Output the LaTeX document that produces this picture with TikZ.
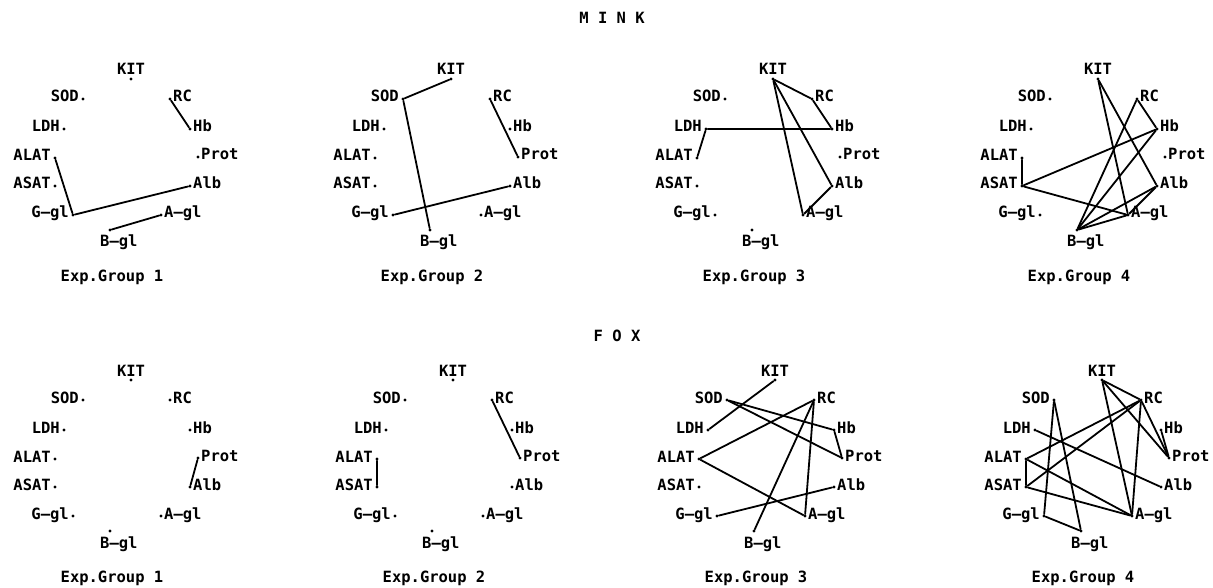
\documentclass[tikz,border=0pt]{standalone}
\usepackage{fontspec}
\usepackage{tikz}
\newfontfamily\plotfont{DejaVu Sans Mono}
\newcommand\pfont{\fontsize{15.5}{18}\selectfont\plotfont\bfseries}

\begin{document}
\begin{tikzpicture}[x=1pt,y=-1pt,
      every node/.append style={font=\pfont},
      dt/.style={circle,fill,inner sep=0pt,minimum size=3.4pt},
      lk/.style={line width=1.8pt,line cap=round,line join=round},
      lblr/.style={anchor=base west,xshift=3pt,yshift=-3pt,inner sep=0pt},
      lbll/.style={anchor=base east,xshift=-4pt,yshift=-3pt,inner sep=0pt},
      lblup/.style={anchor=base,yshift=4pt,inner sep=0pt},
      lbldn/.style={anchor=base west,xshift=-10pt,yshift=-17pt,inner sep=0pt}]
    \useasboundingbox (0,0) rectangle (1213,588);
    \node (mink) at (612,18) {M I N K};
    \node (fox) at (617,336) {F O X};
    \foreach \p/\ox/\oy/\g in {m1/0/0/1,m2/320/0/2,m3/642/0/3,m4/967/0/4,f1/0/301/1,f2/322/301/2,f3/644/301/3,f4/971/301/4} {
      \begin{scope}[shift={(\ox,\oy)}]
        \foreach \v/\vx/\vy/\s/\t in {KIT/131/79/lblup/KIT,RC/170/99/lblr/RC,Hb/190/129/lblr/Hb,Prot/198/157/lblr/Prot,
            Alb/190/186/lblr/Alb,Agl/161/215/lblr/A–gl,Bgl/110/230/lbldn/B–gl,Ggl/73/215/lbll/G–gl,
            ASAT/55/186/lbll/ASAT,ALAT/55/158/lbll/ALAT,LDH/64/129/lbll/LDH,SOD/83/99/lbll/SOD} {
          \node[dt] (\p\v) at (\vx,\vy) {};
          \node[\s] (\p\v l) at (\p\v) {\t};
        }
        \node (\p grp) at (112,277) {Exp.Group \g};
      \end{scope}
    }
    \foreach \a/\b in {m1RC/m1Hb,m1ALAT/m1Ggl,m1Ggl/m1Alb,m1Bgl/m1Agl,
        m2KIT/m2SOD,m2SOD/m2Bgl,m2RC/m2Prot,m2Ggl/m2Alb,
        m3KIT/m3RC,m3RC/m3Hb,m3KIT/m3Alb,m3KIT/m3Agl,m3Alb/m3Agl,m3LDH/m3Hb,m3LDH/m3ALAT,
        m4KIT/m4Agl,m4KIT/m4Alb,m4RC/m4Hb,m4RC/m4Bgl,m4Hb/m4ASAT,m4Hb/m4Bgl,m4ALAT/m4ASAT,m4ASAT/m4Agl,m4Bgl/m4Alb,m4Bgl/m4Agl,m4Alb/m4Agl,
        f1Prot/f1Alb,
        f2RC/f2Prot,f2ALAT/f2ASAT,
        f3KIT/f3LDH,f3SOD/f3Hb,f3SOD/f3Prot,f3Hb/f3Prot,f3RC/f3ALAT,f3RC/f3Bgl,f3RC/f3Agl,f3ALAT/f3Agl,f3Ggl/f3Alb,
        f4KIT/f4RC,f4KIT/f4Prot,f4KIT/f4Agl,f4RC/f4Prot,f4Hb/f4Prot,f4RC/f4ALAT,f4RC/f4ASAT,f4RC/f4Agl,f4SOD/f4Ggl,f4SOD/f4Bgl,f4Ggl/f4Bgl,f4LDH/f4Alb,f4ALAT/f4ASAT,f4ALAT/f4Agl,f4ASAT/f4Agl}
      \draw[lk] (\a) -- (\b);
  \end{tikzpicture}
\end{document}
